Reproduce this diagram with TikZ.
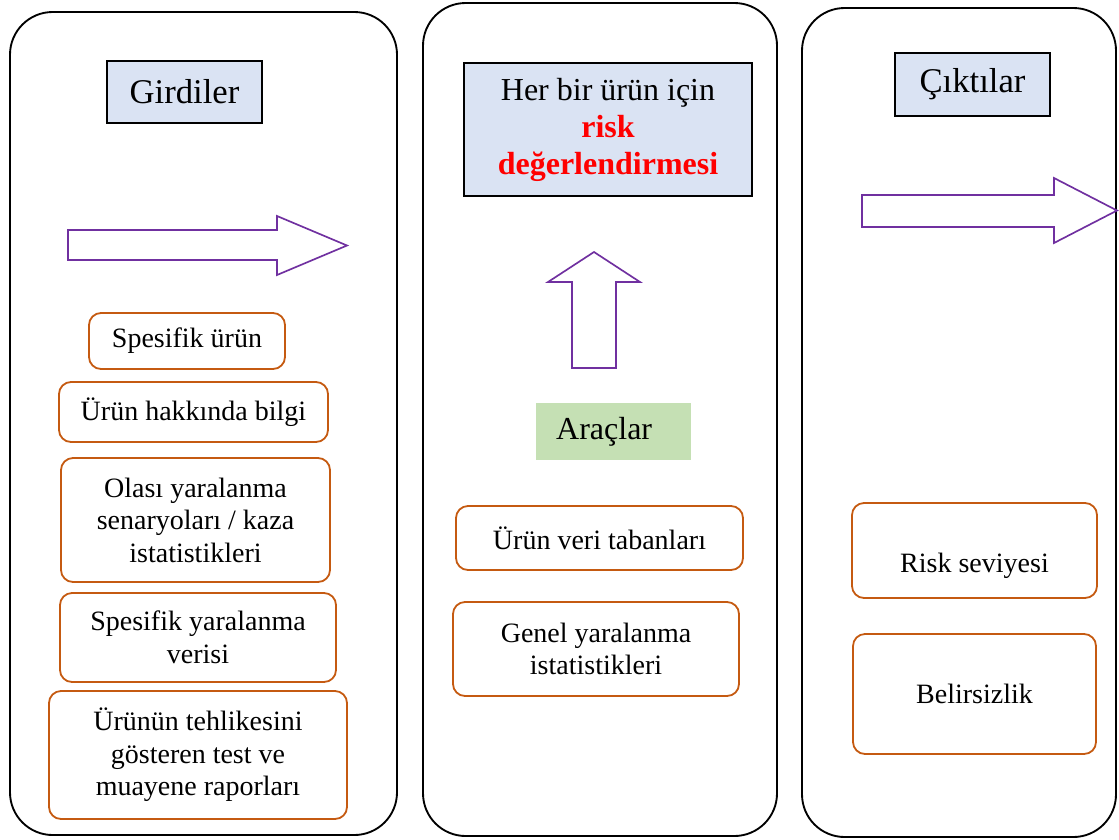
\documentclass[tikz,border=0pt]{standalone}
\usepackage{fontspec}
\setmainfont{Liberation Serif}
\definecolor{headblue}{HTML}{DAE3F3}
\definecolor{toolgreen}{HTML}{C5E0B4}
\definecolor{boxorange}{HTML}{C55A11}
\definecolor{arrowpurple}{HTML}{7030A0}
\definecolor{riskred}{HTML}{FF0000}
\tikzset{
  sz/.style 2 args={minimum width={(#1)*0.75pt}, minimum height={(#2)*0.75pt}},
  panel/.style={draw=black, line width=1.4pt, rounded corners=32pt, inner sep=0pt},
  head/.style={draw=black, line width=1.1pt, fill=headblue, inner sep=0pt, align=center,
    font=\fontsize{24}{27.75}\selectfont},
  bighead/.style={head, font=\fontsize{26}{30}\selectfont},
  tool/.style={fill=toolgreen, inner sep=0pt, font=\fontsize{24}{28}\selectfont},
  obox/.style={draw=boxorange, line width=1.35pt, rounded corners=9pt, inner sep=0pt,
    align=center, font=\fontsize{21}{24.4}\selectfont},
  btext/.style={inner sep=0pt, align=center, font=\fontsize{21}{24.4}\selectfont},
  blockarrow/.style={draw=arrowpurple, line width=1.25pt, fill=white, line join=miter}
}
\begin{document}
\begin{tikzpicture}[x=0.75pt, y=-0.75pt]
\useasboundingbox (0,0) rectangle (1119,839);
% panels
\node[panel, sz={387}{823}] (p1) at (203.5,423.5) {};
\node[panel, sz={354}{833}] (p2) at (600,419.5) {};
\node[panel, sz={314}{829}] (p3) at (959,422.5) {};
% headers
\node[bighead, sz={155}{62}] (gir) at (184.5,92) {Girdiler};
\node[head, sz={288}{133}] (her) at (608,129.5) {Her bir ürün için\\\textbf{\color{riskred}risk}\\\textbf{\color{riskred}değerlendirmesi}};
\node[bighead, sz={155}{63}] (cik) at (972.5,84.5) {Çıktılar};
\node[tool, sz={155}{57}] (arac) at (613.5,431.5) {Araçlar\hspace*{14pt}};
% block arrows
\draw[blockarrow] (68,230) -- (277,230) -- (277,216) -- (347,245.5) -- (277,275) -- (277,260) -- (68,260) -- cycle;
\draw[blockarrow] (572,368) -- (572,282) -- (548,282) -- (594,252) -- (640,282) -- (616,282) -- (616,368) -- cycle;
\draw[blockarrow] (862,195) -- (1054,195) -- (1054,178) -- (1117,210.5) -- (1054,243) -- (1054,227) -- (862,227) -- cycle;
% input boxes
\node[obox, sz={196}{56}] (sp) at (187,341) {Spesifik ürün};
\node[obox, sz={269}{60}] (uh) at (193.5,412) {Ürün hakkında bilgi};
\node[obox, sz={269}{124}] (ol) at (195.5,520) {Olası yaralanma\\senaryoları / kaza\\istatistikleri};
\node[obox, sz={276}{89}] (sy) at (198,637.5) {Spesifik yaralanma\\verisi};
\node[obox, sz={298}{128}] (ut) at (198,755) {Ürünün tehlikesini\\gösteren test ve\\muayene raporları};
% tool boxes
\node[obox, sz={287}{64}] (uv) at (599.5,538) {Ürün veri tabanları};
\node[obox, sz={286}{94}] (gy) at (596,649) {Genel yaralanma\\istatistikleri};
% output boxes
\node[obox, sz={245}{95}] (rs) at (974.5,550.5) {};
\node[btext] (rstext) at (974.5,566) {Risk seviyesi};
\node[obox, sz={243}{120}] (be) at (974.5,694) {Belirsizlik};
\end{tikzpicture}
\end{document}
